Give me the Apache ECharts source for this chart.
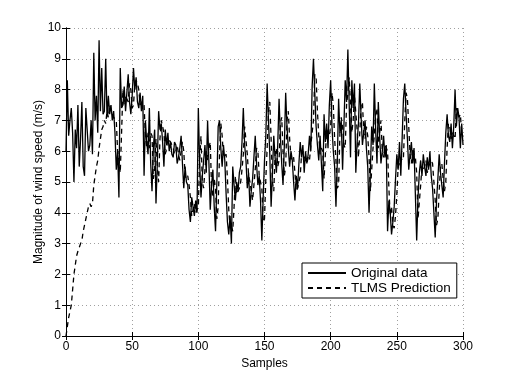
<!DOCTYPE html>
<html>
<head>
<meta charset="utf-8">
<script src="https://cdn.jsdelivr.net/npm/echarts@6/dist/echarts.min.js"></script>
<style>
html, body { margin: 0; padding: 0; background: #fff; }
#main { width: 512px; height: 378px; }
</style>
</head>
<body>
<div id="main"></div>
<script>
// wind speed samples 0..300
var original = [
  6.0, 8.3, 6.5, 7.0, 7.4, 6.6, 5.0, 6.7, 6.1, 7.5,
  5.5, 6.4, 7.6, 5.5, 5.2, 7.4, 6.7, 6.0, 6.2, 7.0,
  5.9, 9.2, 7.0, 7.8, 6.6, 9.6, 7.3, 8.7, 7.2, 7.3,
  9.0, 7.1, 7.8, 7.2, 7.5, 7.0, 7.3, 6.6, 5.4, 6.0,
  4.5, 8.7, 7.4, 7.5, 8.1, 7.3, 7.9, 8.5, 7.6, 7.2,
  7.8, 8.7, 8.0, 8.4, 7.6, 7.4, 7.9, 7.3, 7.8, 5.2,
  7.0, 6.3, 5.9, 7.4, 5.6, 4.7, 6.1, 6.7, 4.3, 5.6,
  7.3, 6.7, 6.9, 6.3, 5.5, 6.7, 6.2, 6.6, 6.0, 6.3,
  5.9, 5.8, 6.3, 6.2, 5.6, 5.8, 6.1, 6.5, 5.6, 4.8,
  5.5, 5.0, 4.9, 4.1, 3.7, 4.5, 4.2, 3.9, 4.4, 4.0,
  7.4, 5.6, 4.5, 5.2, 5.7, 6.2, 5.3, 7.0, 5.6, 4.1,
  4.9, 5.4, 4.2, 3.4, 5.0, 6.8, 7.0, 6.1, 5.5, 6.2,
  5.7, 4.6, 3.7, 3.3, 3.9, 3.0, 5.5, 4.9, 4.4, 5.0,
  4.7, 5.3, 5.5, 6.3, 7.4, 6.2, 5.7, 4.8, 5.3, 4.2,
  4.7, 5.1, 5.8, 6.5, 5.6, 4.9, 5.2, 4.4, 3.1, 4.5,
  5.7, 6.5, 8.2, 7.0, 5.9, 4.2, 5.3, 6.5, 5.8, 5.3,
  6.2, 7.7, 6.5, 5.6, 4.9, 6.2, 7.9, 6.8, 6.1, 5.5,
  6.0, 5.7, 5.0, 4.4, 5.2, 4.8, 5.6, 6.3, 5.8, 6.2,
  5.3, 6.0, 5.6, 5.9, 6.5, 6.0, 8.1, 9.0, 7.9, 6.8,
  6.2, 5.7, 6.5, 5.6, 4.7, 7.2, 6.3, 6.9, 6.1, 7.5,
  8.3, 6.8, 6.0, 5.5, 4.2, 5.6, 7.7, 6.6, 7.0, 5.4,
  6.8, 8.3, 7.6, 9.3, 7.5, 5.8, 8.3, 7.4, 8.2, 5.3,
  6.3, 6.9, 8.2, 7.1, 6.2, 6.6, 7.0, 6.1, 5.5, 4.0,
  5.4, 6.8, 6.2, 8.2, 6.7, 5.6, 7.6, 6.5, 5.6, 6.0,
  6.5, 5.8, 6.2, 3.4, 4.4, 4.0, 3.3, 3.7, 4.2, 5.1,
  5.9, 5.4, 6.3, 5.2, 6.4, 7.7, 8.2, 7.2, 6.4, 5.4,
  5.9, 6.3, 5.6, 6.1, 4.6, 3.1, 4.5, 5.3, 5.7, 5.2,
  5.9, 5.5, 5.2, 5.8, 5.4, 6.0, 5.2, 4.8, 4.0, 3.2,
  4.4, 5.1, 5.9, 5.3, 4.9, 4.5, 5.6, 6.6, 7.2, 6.5,
  6.3, 6.9, 6.1, 6.8, 8.0, 6.8, 7.4, 7.1, 6.1, 6.9,
  6.2
];

var prediction = [
  0.0, 0.3, 0.6, 0.8, 1.0, 1.5, 2.0, 2.3, 2.6, 2.75,
  2.8, 3.0, 3.1, 3.4, 3.6, 3.8, 4.0, 4.2, 4.3, 4.2,
  4.3, 4.9, 5.2, 5.5, 5.7, 6.1, 6.4, 6.7, 6.8, 7.0,
  6.9, 7.3, 7.1, 7.5, 7.3, 7.3, 7.1, 7.1, 7.0, 6.0,
  5.7, 5.3, 6.6, 8.0, 7.5, 7.8, 7.7, 7.6, 8.2, 8.0,
  7.4, 7.5, 8.2, 8.3, 8.2, 8.0, 7.5, 7.6, 7.6, 7.5,
  6.5, 6.1, 6.6, 6.1, 6.6, 6.5, 5.1, 5.4, 6.4, 5.5,
  5.0, 6.4, 7.0, 6.8, 6.6, 5.9, 6.1, 6.4, 6.4, 6.3,
  6.2, 6.1, 5.9, 6.0, 6.2, 5.9, 5.7, 6.0, 6.3, 6.0,
  5.2, 5.1, 5.2, 4.9, 4.5, 3.9, 4.1, 4.3, 4.0, 4.1,
  4.2, 5.7, 6.5, 5.0, 4.8, 5.4, 6.0, 5.7, 6.1, 6.3,
  4.8, 4.5, 5.1, 4.8, 3.8, 4.2, 5.9, 6.9, 6.5, 5.8,
  5.8, 5.9, 5.1, 4.1, 3.5, 3.6, 3.4, 4.2, 5.2, 4.6,
  4.7, 4.8, 5.0, 5.4, 5.9, 6.8, 6.8, 5.9, 5.2, 5.0,
  4.7, 4.4, 4.9, 5.4, 6.1, 6.0, 5.2, 5.0, 4.8, 3.7,
  3.8, 5.1, 6.1, 7.3, 7.6, 6.4, 5.0, 4.7, 5.9, 6.1,
  5.5, 5.7, 6.9, 7.1, 6.0, 5.2, 5.5, 7.0, 7.3, 6.4,
  5.8, 5.7, 5.8, 5.3, 4.7, 4.8, 5.0, 5.2, 5.9, 6.0,
  6.0, 5.7, 5.6, 5.8, 5.7, 6.2, 6.2, 7.0, 8.5, 8.4,
  7.3, 6.5, 5.9, 6.1, 6.0, 5.1, 5.9, 6.7, 6.6, 6.5,
  6.8, 7.9, 7.5, 6.4, 5.7, 4.8, 4.9, 6.6, 7.1, 6.8,
  6.2, 6.1, 7.5, 7.9, 8.4, 8.4, 6.6, 7.0, 7.8, 7.8,
  6.7, 5.8, 6.6, 7.5, 7.6, 6.6, 6.4, 6.8, 6.5, 5.8,
  4.7, 4.7, 6.1, 6.5, 7.2, 7.4, 6.1, 6.6, 7.0, 6.0,
  5.8, 6.2, 6.1, 6.0, 4.8, 3.9, 4.2, 3.6, 3.5, 3.9,
  4.6, 5.5, 5.6, 5.8, 5.7, 5.8, 7.0, 7.9, 7.7, 6.8,
  5.9, 5.6, 6.1, 5.9, 5.8, 5.3, 3.8, 3.8, 4.9, 5.5,
  5.4, 5.5, 5.7, 5.3, 5.5, 5.6, 5.7, 5.6, 5.0, 4.4,
  3.6, 3.8, 4.7, 5.5, 5.6, 5.1, 4.7, 5.0, 6.1, 6.9,
  6.8, 6.4, 6.6, 6.5, 6.4, 7.4, 7.4, 7.1, 7.2, 6.6,
  6.5
];

var seriesNames = ['Original data', 'TLMS Prediction'];
var xTicks = [0, 50, 100, 150, 200, 250, 300];
var yTicks = [0, 1, 2, 3, 4, 5, 6, 7, 8, 9, 10];

var font = 'Liberation Sans';

function toPairs(arr) {
    return arr.map(function (v, i) { return [i, v]; });
}

var myChart = echarts.init(document.getElementById('main'));

var gridLine = { show: true, lineStyle: { color: '#a0a0a0', width: 1, type: [1, 3] } };
var frame = { show: true, lineStyle: { color: '#000', width: 1 } };
var tickIn = { show: true, inside: true, length: 4, lineStyle: { color: '#000' } };

var option = {
    animation: false,
    backgroundColor: '#fff',
    grid: { left: 66, right: 49, top: 28, bottom: 42 },
    legend: {
        data: seriesNames,
        orient: 'vertical',
        left: 302,
        top: 263,
        padding: [3, 6, 3, 5],
        itemGap: 1,
        itemWidth: 38,
        itemHeight: 14,
        backgroundColor: '#fff',
        borderColor: '#000',
        borderWidth: 1,
        borderRadius: 0,
        itemStyle: { opacity: 0 },
        textStyle: { fontFamily: font, fontSize: 13.5, color: '#000' }
    },
    xAxis: [{
        type: 'value',
        min: xTicks[0],
        max: xTicks[xTicks.length - 1],
        interval: 50,
        name: 'Samples',
        nameLocation: 'middle',
        nameGap: 21,
        nameTextStyle: { fontFamily: font, fontSize: 12, color: '#000' },
        axisLine: frame,
        axisTick: tickIn,
        axisLabel: { fontFamily: font, fontSize: 12, color: '#000', margin: 5 },
        splitLine: gridLine
    }, {
        type: 'value',
        position: 'top',
        min: 0, max: 300, interval: 50,
        axisLine: frame,
        axisTick: tickIn,
        axisLabel: { show: false },
        splitLine: { show: false }
    }],
    yAxis: [{
        type: 'value',
        min: yTicks[0],
        max: yTicks[yTicks.length - 1],
        interval: 1,
        name: 'Magnitude of wind speed (m/s)',
        nameLocation: 'middle',
        nameGap: 21,
        nameMoveOverlap: false,
        nameTextStyle: { fontFamily: font, fontSize: 12, color: '#000' },
        axisLine: frame,
        axisTick: tickIn,
        axisLabel: { fontFamily: font, fontSize: 12, color: '#000', margin: 5 },
        splitLine: gridLine
    }, {
        type: 'value',
        position: 'right',
        min: 0, max: 10, interval: 1,
        axisLine: frame,
        axisTick: tickIn,
        axisLabel: { show: false },
        splitLine: { show: false }
    }],
    series: [{
        name: seriesNames[1],
        type: 'line',
        symbol: 'none',
        data: toPairs(prediction),
        lineStyle: { color: '#000', width: 1.3, type: [5, 4] },
        itemStyle: { color: 'rgba(0,0,0,0)', borderWidth: 0 }
    }, {
        name: seriesNames[0],
        type: 'line',
        symbol: 'none',
        data: toPairs(original),
        lineStyle: { color: '#000', width: 1.3 },
        itemStyle: { color: 'rgba(0,0,0,0)', borderWidth: 0 }
    }]
};

myChart.setOption(option);
</script>
</body>
</html>
